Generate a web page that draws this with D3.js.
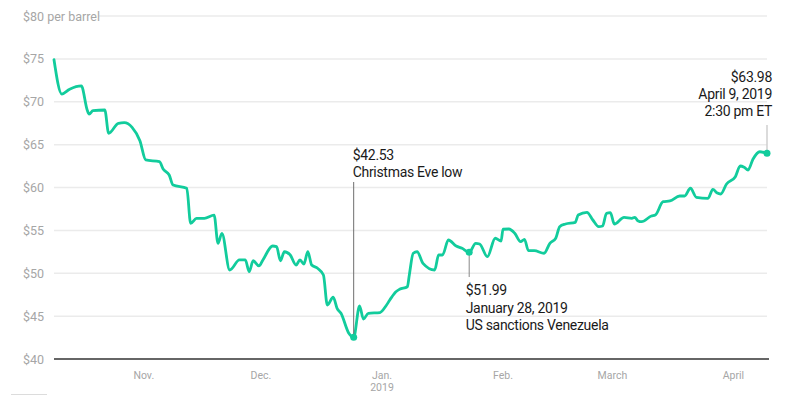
<!DOCTYPE html>
<html><head><meta charset="utf-8">
<script src="https://cdn.jsdelivr.net/npm/d3@7"></script>
<style>
html,body{margin:0;padding:0;background:#fff;}
svg{display:block;font-family:Roboto,"Noto Sans",sans-serif;}
</style></head>
<body><svg id="c" width="807" height="395"></svg>
<script>
// ---- data ----
const dates = ["2018-10-09T00:00","2018-10-11T00:00","2018-10-13T00:00","2018-10-16T00:00","2018-10-17T12:00","2018-10-18T00:00","2018-10-19T00:00","2018-10-22T00:00","2018-10-23T00:00","2018-10-25T12:00","2018-10-27T00:00","2018-10-29T00:00","2018-10-31T00:00","2018-11-01T12:00","2018-11-05T00:00","2018-11-06T00:00","2018-11-07T12:00","2018-11-08T12:00","2018-11-12T00:00","2018-11-13T00:00","2018-11-14T12:00","2018-11-16T12:00","2018-11-19T00:00","2018-11-20T00:00","2018-11-21T00:00","2018-11-23T00:00","2018-11-25T12:00","2018-11-27T00:00","2018-11-28T00:00","2018-11-29T00:00","2018-11-30T12:00","2018-12-01T12:00","2018-12-04T00:00","2018-12-05T00:00","2018-12-06T00:00","2018-12-07T00:00","2018-12-08T12:00","2018-12-10T00:00","2018-12-11T00:00","2018-12-12T00:00","2018-12-13T00:00","2018-12-14T00:00","2018-12-15T12:00","2018-12-17T00:00","2018-12-18T00:00","2018-12-19T12:00","2018-12-20T12:00","2018-12-21T12:00","2018-12-23T12:00","2018-12-24T18:00","2018-12-26T06:00","2018-12-27T06:00","2018-12-28T12:00","2018-12-31T12:00","2019-01-02T00:00","2019-01-03T00:00","2019-01-04T12:00","2019-01-05T12:00","2019-01-07T12:00","2019-01-08T00:00","2019-01-09T00:00","2019-01-10T00:00","2019-01-11T12:00","2019-01-14T12:00","2019-01-15T12:00","2019-01-16T12:00","2019-01-18T00:00","2019-01-20T00:00","2019-01-21T12:00","2019-01-23T08:00","2019-01-25T00:00","2019-01-26T00:00","2019-01-28T00:00","2019-01-30T00:00","2019-01-31T12:00","2019-02-01T00:00","2019-02-02T12:00","2019-02-04T00:00","2019-02-05T12:00","2019-02-06T12:00","2019-02-07T12:00","2019-02-09T00:00","2019-02-11T12:00","2019-02-13T00:00","2019-02-14T12:00","2019-02-15T12:00","2019-02-17T00:00","2019-02-19T12:00","2019-02-20T06:00","2019-02-22T12:00","2019-02-24T00:00","2019-02-25T12:00","2019-02-26T12:00","2019-02-27T12:00","2019-02-28T12:00","2019-03-01T12:00","2019-03-04T00:00","2019-03-06T00:00","2019-03-06T18:00","2019-03-07T12:00","2019-03-08T12:00","2019-03-11T00:00","2019-03-12T00:00","2019-03-14T00:00","2019-03-15T18:00","2019-03-18T06:00","2019-03-19T12:00","2019-03-21T00:00","2019-03-22T12:00","2019-03-25T12:00","2019-03-26T18:00","2019-03-27T18:00","2019-03-28T18:00","2019-03-30T06:00","2019-04-01T12:00","2019-04-02T18:00","2019-04-03T18:00","2019-04-04T18:00","2019-04-06T00:00","2019-04-07T18:00","2019-04-09T14:30"];
const prices = [74.9,70.9,71.45,71.84,69.04,68.57,68.96,69.04,66.32,67.49,67.56,67.02,65.46,63.21,63.01,62.12,61.46,60.29,59.91,55.83,56.41,56.41,56.79,53.49,54.66,50.38,51.55,51.55,50.18,51.46,50.85,51.55,53.18,53.10,51.46,52.51,52.13,50.96,51.55,51.08,52.51,50.96,50.58,49.80,46.30,47.20,45.91,45.33,43.0,42.53,46.18,44.66,45.33,45.42,46.18,46.88,47.81,48.13,48.43,49.80,52.33,52.51,51.16,50.38,52.13,52.13,53.88,53.18,52.91,52.45,53.49,53.41,51.93,54.08,53.76,55.13,55.16,54.66,53.68,53.96,52.63,52.63,52.33,53.49,54.08,55.43,55.74,55.94,56.79,57.11,56.21,55.43,55.51,56.99,57.06,55.74,56.52,56.41,56.52,56.13,56.01,56.68,56.79,58.34,58.43,59.01,59.01,59.91,58.86,58.74,59.79,59.39,59.24,60.41,61.26,62.51,62.36,62.04,63.29,64.17,63.98];
const yTicks = [40,45,50,55,60,65,70,75,80];
const yTickLabels = ["$40","$45","$50","$55","$60","$65","$70","$75","$80 per barrel"];
const monthTicks = ["2018-11-01","2018-12-01","2019-01-01","2019-02-01","2019-03-01","2019-04-01"];
const monthLabels = [["Nov."],["Dec."],["Jan.","2019"],["Feb."],["March"],["April"]];
const annDates = ["2018-12-24T18:00","2019-01-23T08:00","2019-04-09T14:30"];
const annPrices = [42.53,52.45,63.98];
const annLabels = [["$42.53","Christmas Eve low"],["$51.99","January 28, 2019","US sanctions Venezuela"],["$63.98","April 9, 2019","2:30 pm ET"]];

// ---- chart ----
const parse = d3.isoParse;
const data = dates.map((d,i)=>({date:parse(d),price:prices[i]}));
const svg = d3.select("#c");
const x = d3.scaleTime().domain(d3.extent(data,d=>d.date)).range([54,767]);
const y = d3.scaleLinear().domain([40,80]).range([359,16]);
const lineColor = "#12cc9c";

// gridlines + y labels
const gy = svg.append("g");
yTicks.forEach((t,i)=>{
  if(t===40) return;
  gy.append("line").attr("x1", t===80?99:54).attr("x2",767)
    .attr("y1",y(t)).attr("y2",y(t)).attr("stroke","#ebebeb").attr("stroke-width",1.5);
});
yTicks.forEach((t,i)=>{
  gy.append("text").attr("x",23).attr("y",y(t)+4.5).attr("fill","#a6a6a6")
    .attr("font-size",12.5).text(yTickLabels[i]);
});
// baseline
svg.append("line").attr("x1",54).attr("x2",769).attr("y1",y(40)).attr("y2",y(40))
  .attr("stroke","#333").attr("stroke-width",1.5);

// x axis labels
const gx = svg.append("g");
monthTicks.forEach((m,i)=>{
  monthLabels[i].forEach((s,j)=>{
    gx.append("text").attr("text-anchor","middle").attr("fill","#a6a6a6")
      .attr("font-size",10.5).attr("x",x(parse(m))).attr("y",378.5+j*12.8).text(s);
  });
});

// line
svg.append("path").datum(data)
  .attr("d",d3.line().x(d=>x(d.date)).y(d=>y(d.price)).curve(d3.curveMonotoneX))
  .attr("fill","none").attr("stroke",lineColor).attr("stroke-width",2.8)
  .attr("stroke-linejoin","round").attr("stroke-linecap","round");

// annotations
const ann = annDates.map((d,i)=>({date:parse(d),price:annPrices[i],lines:annLabels[i]}));
const ga = svg.append("g");
// Christmas Eve (text above)
{
  const a = ann[0], ax = x(a.date), ay = y(a.price);
  ga.append("line").attr("x1",ax).attr("x2",ax).attr("y1",182).attr("y2",ay)
    .attr("stroke","#6f6f6f").attr("stroke-width",1);
  a.lines.forEach((s,j)=>ga.append("text").attr("x",ax-1).attr("y",160+j*17)
    .attr("font-size",14).attr("letter-spacing",-0.3).attr("fill","#1a1a1a").text(s));
}
// Jan 28 (text below)
{
  const a = ann[1], ax = x(a.date), ay = y(a.price);
  ga.append("line").attr("x1",ax).attr("x2",ax).attr("y1",ay).attr("y2",277)
    .attr("stroke","#888").attr("stroke-width",1);
  a.lines.forEach((s,j)=>ga.append("text").attr("x",ax-3.5).attr("y",295+j*17.5)
    .attr("font-size",14).attr("letter-spacing",-0.3).attr("fill","#1a1a1a").text(s));
}
// April 9 (text above, right aligned)
{
  const a = ann[2], ax = x(a.date), ay = y(a.price);
  ga.append("line").attr("x1",ax).attr("x2",ax).attr("y1",125).attr("y2",ay)
    .attr("stroke","#cfcfcf").attr("stroke-width",1.5);
  a.lines.forEach((s,j)=>ga.append("text").attr("x",ax+5).attr("y",82+j*17)
    .attr("text-anchor","end").attr("font-size",14).attr("letter-spacing",-0.3)
    .attr("fill","#1a1a1a").text(s));
}
// dots
ga.selectAll("circle").data(ann).join("circle")
  .attr("cx",d=>x(d.date)).attr("cy",d=>y(d.price)).attr("r",3.5).attr("fill",lineColor);

// footer rule
svg.append("line").attr("x1",11).attr("x2",47).attr("y1",394.5).attr("y2",394.5)
  .attr("stroke","#dcdcdc").attr("stroke-width",1);
</script></body></html>
